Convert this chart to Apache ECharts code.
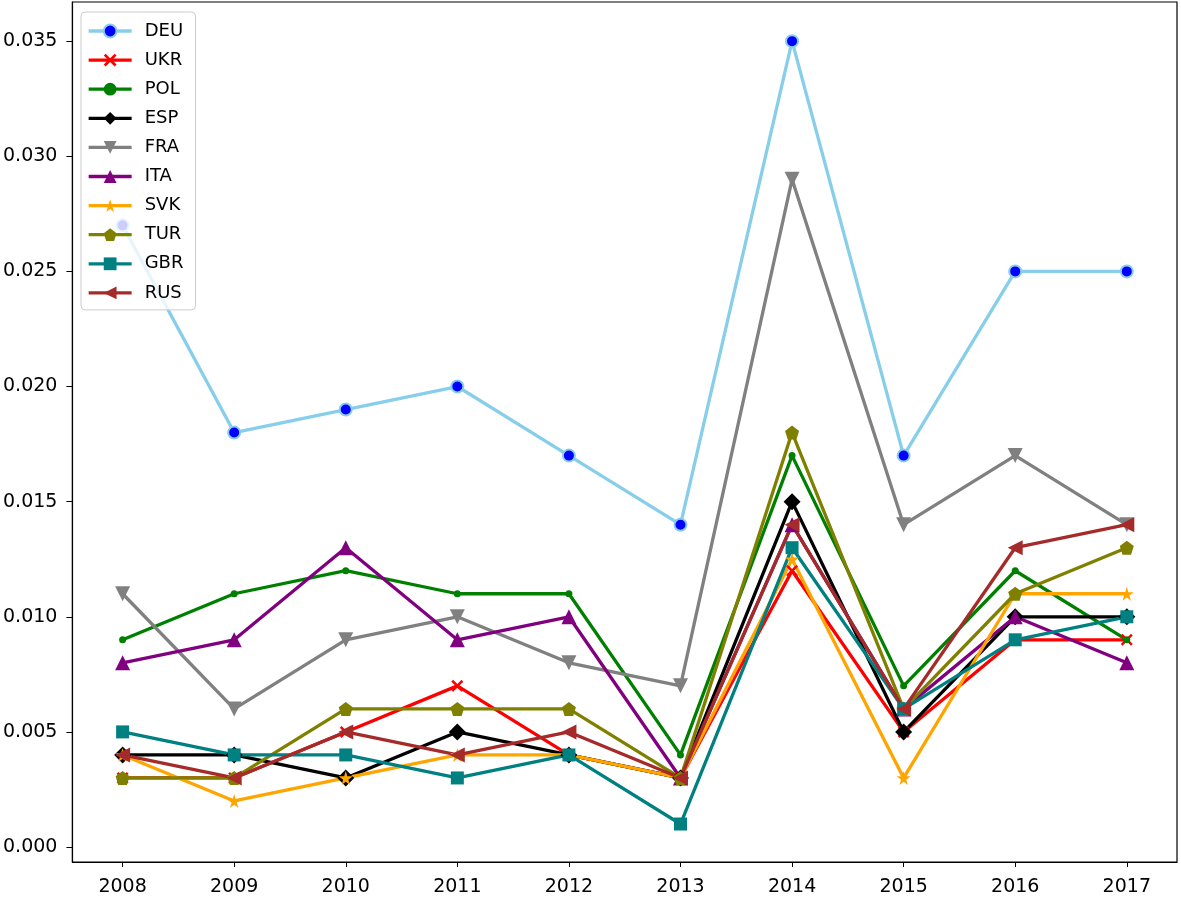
<!DOCTYPE html>
<html><head><meta charset="utf-8">
<script src="https://cdn.jsdelivr.net/npm/echarts@6/dist/echarts.min.js"></script>
<style>html,body{margin:0;padding:0;background:#fff}#c{width:1181px;height:897px}</style>
</head><body><div id="c"></div>
<script>
const years = [2008, 2009, 2010, 2011, 2012, 2013, 2014, 2015, 2016, 2017];
const yTicks = [0.000, 0.005, 0.010, 0.015, 0.020, 0.025, 0.030, 0.035];
const DEU = [0.027, 0.018, 0.019, 0.020, 0.017, 0.014, 0.035, 0.017, 0.025, 0.025];
const UKR = [0.003, 0.003, 0.005, 0.007, 0.004, 0.003, 0.012, 0.005, 0.009, 0.009];
const POL = [0.009, 0.011, 0.012, 0.011, 0.011, 0.004, 0.017, 0.007, 0.012, 0.009];
const ESP = [0.004, 0.004, 0.003, 0.005, 0.004, 0.003, 0.015, 0.005, 0.010, 0.010];
const FRA = [0.011, 0.006, 0.009, 0.010, 0.008, 0.007, 0.029, 0.014, 0.017, 0.014];
const ITA = [0.008, 0.009, 0.013, 0.009, 0.010, 0.003, 0.014, 0.006, 0.010, 0.008];
const SVK = [0.004, 0.002, 0.003, 0.004, 0.004, 0.003, 0.0125, 0.003, 0.011, 0.011];
const TUR = [0.003, 0.003, 0.006, 0.006, 0.006, 0.003, 0.018, 0.006, 0.011, 0.013];
const GBR = [0.005, 0.004, 0.004, 0.003, 0.004, 0.001, 0.013, 0.006, 0.009, 0.010];
const RUS = [0.004, 0.003, 0.005, 0.004, 0.005, 0.003, 0.014, 0.006, 0.013, 0.014];

const FONT = 'DejaVu Sans';
const X_PATH = 'path://M1.5,0 L5,3.5 L8.5,0 L10,1.5 L6.5,5 L10,8.5 L8.5,10 L5,6.5 L1.5,10 L0,8.5 L3.5,5 L0,1.5 Z';
const STAR = 'path://M50,0 L61,35 L98,35 L68,57 L79,91 L50,70 L21,91 L32,57 L2,35 L39,35 Z';
const PENT = 'path://M50,0 L97.6,34.5 L79.4,90.5 L20.6,90.5 L2.4,34.5 Z';
const DIAM = 'path://M5,0 L10,5 L5,10 L0,5 Z';
const TDOWN = 'path://M0,0 L10,0 L5,9 Z';
const TUP = 'path://M5,0 L10,9 L0,9 Z';
const TLEFT = 'path://M0,5 L9,0 L9,10 Z';

const defs = [
  {name:'DEU', data:DEU, color:'#87ceeb', symbol:'circle', size:12, fill:'#0000ff', border:'#87ceeb'},
  {name:'UKR', data:UKR, color:'#ff0000', symbol:X_PATH, size:12},
  {name:'POL', data:POL, color:'#008000', symbol:'circle', size:7},
  {name:'ESP', data:ESP, color:'#000000', symbol:DIAM, size:17},
  {name:'FRA', data:FRA, color:'#808080', symbol:TDOWN, size:15},
  {name:'ITA', data:ITA, color:'#800080', symbol:TUP, size:15},
  {name:'SVK', data:SVK, color:'#ffa500', symbol:STAR, size:14},
  {name:'TUR', data:TUR, color:'#808000', symbol:PENT, size:14},
  {name:'GBR', data:GBR, color:'#008080', symbol:'rect', size:13},
  {name:'RUS', data:RUS, color:'#a52a2a', symbol:TLEFT, size:15}
];

const series = defs.map(d => ({
  name: d.name,
  type: 'line',
  data: years.map((y, i) => [y, d.data[i]]),
  symbol: d.symbol,
  symbolSize: d.size,
  showAllSymbol: true,
  animation: false,
  lineStyle: {color: d.color, width: 3.3},
  itemStyle: {color: d.fill || d.color, borderColor: d.border || d.color, borderWidth: d.border ? 2 : 0, opacity: 1},
  emphasis: {disabled: true}
}));

const chart = echarts.init(document.getElementById('c'), null, {renderer: 'canvas'});
chart.setOption({
  animation: false,
  backgroundColor: '#fff',
  grid: {left: 70, right: 4, top: 2, bottom: 33, show: true, borderColor: '#000', borderWidth: 1.2, containLabel: false},
  xAxis: {
    type: 'value', min: 2007.55, max: 2017.45,
    splitLine: {show: false},
    axisLine: {show: true, onZero: false, lineStyle: {color: '#000', width: 1.2}},
    axisTick: {show: true, inside: false, length: 5, lineStyle: {color: '#000', width: 1}, customValues: years},
    axisLabel: {customValues: years, formatter: v => String(v), color: '#000', fontFamily: FONT, fontSize: 19, margin: 16}
  },
  yAxis: {
    type: 'value', min: -0.00065, max: 0.0367,
    splitLine: {show: false},
    axisLine: {show: true, onZero: false, lineStyle: {color: '#000', width: 1.2}},
    axisTick: {show: true, length: 6, lineStyle: {color: '#000', width: 1}, customValues: yTicks},
    axisLabel: {customValues: yTicks, formatter: v => v.toFixed(3), color: '#000', fontFamily: FONT, fontSize: 19, margin: 15}
  },
  legend: {
    orient: 'vertical', left: 81, top: 12,
    padding: [10, 12, 8, 6],
    itemWidth: 43, itemHeight: 16, itemGap: 11.1,
    backgroundColor: 'rgba(255,255,255,0.8)',
    borderColor: '#cccccc', borderWidth: 1, borderRadius: 4,
    lineStyle: {width: 3.3},
    textStyle: {fontFamily: FONT, fontSize: 18, color: '#000', padding: [0, 0, 0, 8]},
    data: defs.map(d => d.name)
  },
  series: series
});
</script></body></html>
